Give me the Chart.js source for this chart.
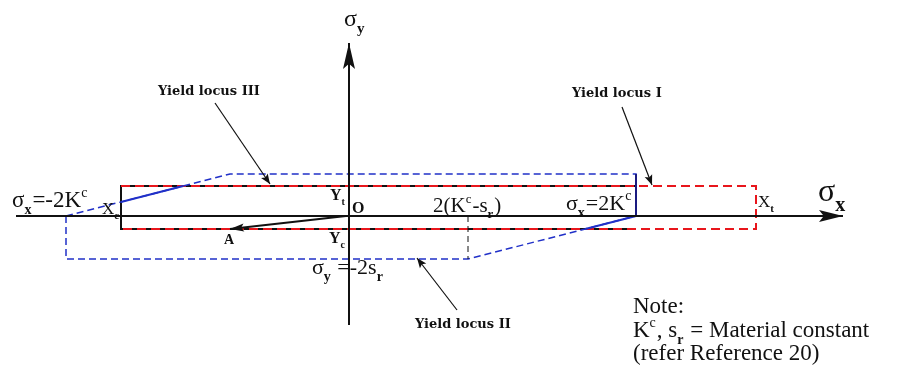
<!DOCTYPE html>
<html>
<head>
<meta charset="utf-8">
<script src="https://cdn.jsdelivr.net/npm/chart.js@4.4.1/dist/chart.umd.min.js"></script>
<style>
  body { margin: 0; background: #fff; }
  #wrap { width: 908px; height: 379px; }
</style>
</head>
<body>
<div id="wrap"><canvas id="myChart" width="908" height="379"></canvas></div>
<script>
// values, origin O where the axes cross
const sigmaXMarks = [-283, -228, -119, 119, 287, 407]; // -2Kc, Xc, locus III kink, 2(Kc-sr), 2Kc, Xt
const sigmaYMarks = [42, 30, -13, -43];                // locus III top, Yt, Yc, -2sr
const axisX = [-333, 494];
const axisY = [-109, 173];
const pointA = [-119, -13];

const [negTwoK, Xc, kinkIII, twoKs, twoK, Xt] = sigmaXMarks;
const [topIII, Yt, Yc, negTwoS] = sigmaYMarks;

// leader lines, [from, to]
const leaderIx = [273, 303],   leaderIy = [109, 31];
const leaderIIx = [108, 68],   leaderIIy = [-94, -42];
const leaderIIIx = [-134, -79], leaderIIIy = [113, 32];

function pts(xs, ys) {
  return xs.map((x, i) => ({ x: x, y: ys[i] }));
}
function slantX(x0, y0, x1, y1, y) { // x on a straight edge at height y
  return x0 + (y - y0) * (x1 - x0) / (y1 - y0);
}

const RED = '#e8161c';
const BLUE = '#2030c8';
const SERIF = '"Liberation Serif", "Times New Roman", serif';
const BOLDSERIF = '"DejaVu Serif", serif';

// text labels: [x, y, size, bold, parts, font]; part = [text, 'n'|'sub'|'sup']
const textLabels = [
  [-337, 9, 23, false, [['σ', 'n'], ['x', 'sub'], ['=-2K', 'n'], ['c', 'sup']]],
  [-247, 2, 17, false, [['X', 'n'], ['c', 'sub']]],
  [-125, -28, 14, true, [['A', 'n']]],
  [-19, 16, 16, true, [['Y', 'n'], ['t', 'sub']]],
  [3, 3, 16, true, [['O', 'n']]],
  [-20, -27, 16, true, [['Y', 'n'], ['c', 'sub']]],
  [84, 4, 21, false, [['2(K', 'n'], ['c', 'sup'], ['-s', 'n'], ['r', 'sub'], [')', 'n']]],
  [217, 6, 22, false, [['σ', 'n'], ['x', 'sub'], ['=2K', 'n'], ['c', 'sup']]],
  [409, 9, 17, false, [['X', 'n'], ['t', 'sub']]],
  [469, 15, 32, false, [['σ', 'n'], ['x', 'sub']]],
  [-5, 190, 24, false, [['σ', 'n'], ['y', 'sub']]],
  [-37, -58, 22, false, [['σ', 'n'], ['y', 'sub'], [' =-2s', 'n'], ['r', 'sub']]],
  [-191, 121, 13, true, [['Yield locus III', 'n']], BOLDSERIF],
  [223, 119, 13, true, [['Yield locus I', 'n']], BOLDSERIF],
  [66, -112, 13, true, [['Yield locus II', 'n']], BOLDSERIF],
  [284, -97, 23, false, [['Note:', 'n']]],
  [284, -121, 23, false, [['K', 'n'], ['c', 'sup'], [', s', 'n'], ['r', 'sub'], [' = Material constant', 'n']]],
  [284, -144, 23, false, [['(refer Reference 20)', 'n']]]
];

const arrowHeads = {
  id: 'arrowHeads',
  afterDatasetsDraw(chart) {
    const ctx = chart.ctx;
    chart.data.datasets.forEach((ds, i) => {
      if (!ds.arrow) return;
      const p = chart.getDatasetMeta(i).data;
      const a = p[p.length - 2], b = p[p.length - 1];
      const ang = Math.atan2(b.y - a.y, b.x - a.x);
      const L = ds.arrow[0], W = ds.arrow[1];
      ctx.save();
      ctx.translate(b.x, b.y);
      ctx.rotate(ang);
      ctx.fillStyle = ds.borderColor;
      ctx.beginPath();
      ctx.moveTo(0, 0);
      ctx.lineTo(-L, -W);
      ctx.lineTo(-L * 0.8, 0);
      ctx.lineTo(-L, W);
      ctx.closePath();
      ctx.fill();
      ctx.restore();
    });
  }
};

const richText = {
  id: 'richText',
  afterDraw(chart, args, opts) {
    const ctx = chart.ctx;
    const sx = chart.scales.x, sy = chart.scales.y;
    ctx.save();
    ctx.fillStyle = '#111';
    ctx.textBaseline = 'alphabetic';
    opts.labels.forEach(l => {
      let x = sx.getPixelForValue(l[0]);
      const y = sy.getPixelForValue(l[1]);
      const size = l[2];
      const family = l[5] || SERIF;
      l[4].forEach(part => {
        let fs = size, dy = 0, w = l[3] ? 'bold ' : '';
        if (part[1] === 'sub') { fs = Math.round(size * 0.62); dy = size * 0.3; w = 'bold '; }
        if (part[1] === 'sup') { fs = Math.round(size * 0.62); dy = -size * 0.45; }
        ctx.font = w + fs + 'px ' + family;
        ctx.fillText(part[0], x, y + dy);
        x += ctx.measureText(part[0]).width + (part[1] === 'n' ? 0 : 1);
      });
    });
    ctx.restore();
  }
};

function line(data, color, width, dash, order, arrow) {
  return {
    data: data,
    showLine: true,
    borderColor: color,
    backgroundColor: color,
    borderWidth: width,
    borderDash: dash || [],
    pointRadius: 0,
    fill: false,
    tension: 0,
    order: order,
    arrow: arrow
  };
}

const solidLeftTopX = slantX(negTwoK, 0, kinkIII, topIII, Yt);
const solidLeftY = (Xc - negTwoK) * topIII / (kinkIII - negTwoK);
const solidRightX = slantX(twoKs, negTwoS, twoK, 0, Yc);

const ctx = document.getElementById('myChart');
new Chart(ctx, {
  type: 'scatter',
  data: {
    datasets: [
      // black rectangle under the red one
      line(pts([twoK, Xc, Xc, twoK], [Yt, Yt, Yc, Yc]), '#111', 2, [], 9),
      // yield locus I
      line(pts([Xc, Xt, Xt, Xc], [Yt, Yt, Yc, Yc]), RED, 2, [9, 5], 8),
      // yield locus III
      line(pts([negTwoK, kinkIII, twoK, twoK], [0, topIII, topIII, 0]), BLUE, 1.5, [7, 4], 7),
      // yield locus II
      line(pts([negTwoK, negTwoK, twoKs, twoK], [0, negTwoS, negTwoS, 0]), BLUE, 1.5, [7, 4], 7),
      // solid parts of the common locus
      line(pts([Xc, solidLeftTopX], [solidLeftY, Yt]), BLUE, 2, [], 6),
      line(pts([solidRightX, twoK], [Yc, 0]), BLUE, 2, [], 6),
      line(pts([twoK, twoK], [0, topIII]), '#1a1a80', 2, [], 6),
      // 2(Kc-sr) marker
      line(pts([twoKs, twoKs], [0, negTwoS]), '#111', 1, [6, 4], 6),
      // axes
      line(pts(axisX, [0, 0]), '#111', 2, [], 5, [24, 6]),
      line(pts([0, 0], axisY), '#111', 2, [], 5, [26, 6]),
      // vector OA
      line(pts([-3, pointA[0]], [0, pointA[1]]), '#111', 2, [], 4, [14, 4]),
      // leaders
      line(pts(leaderIx, leaderIy), '#111', 1.2, [], 4, [10, 4]),
      line(pts(leaderIIx, leaderIIy), '#111', 1.2, [], 4, [10, 4]),
      line(pts(leaderIIIx, leaderIIIy), '#111', 1.2, [], 4, [10, 4])
    ]
  },
  options: {
    responsive: false,
    animation: false,
    layout: { padding: 0 },
    scales: {
      x: { type: 'linear', min: -349, max: 559, display: false },
      y: { type: 'linear', min: -163, max: 216, display: false }
    },
    plugins: {
      legend: { display: false },
      tooltip: { enabled: false },
      richText: { labels: textLabels }
    }
  },
  plugins: [arrowHeads, richText]
});
</script>
</body>
</html>
